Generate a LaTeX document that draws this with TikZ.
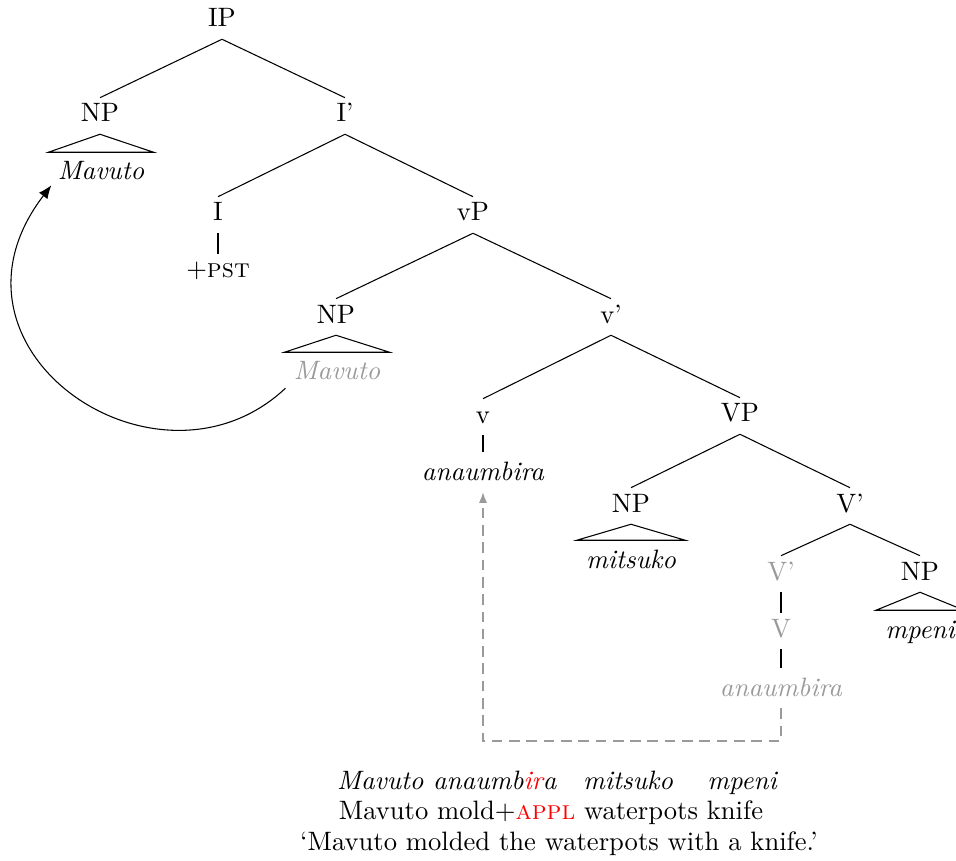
\documentclass[tikz,border=0pt]{standalone}
\usetikzlibrary{arrows.meta}
\definecolor{cgray}{HTML}{9A9A9A}
\tikzset{
  every picture/.style={x=0.3759pt, y=-0.3759pt},
  cat/.style={anchor=base, text height=1.3ex, text depth=.25ex},
  leaf/.style={cat, text height=1.6ex, font=\itshape},
  trace/.style={text=cgray},
  movearrow/.style={-{Latex[length=5pt, width=4pt]}},
  copyarrow/.style={draw=cgray, dash pattern=on 4pt off 2.5pt, -{Latex[length=4pt, width=3pt]}},
  gloss/.style={anchor=base, inner sep=0pt},
}

\begin{document}
\begin{tikzpicture}
  \useasboundingbox (0,0) rectangle (956,861);
  % roof over a phrase: #1 phrase node, #2 its words
  \newcommand{\roof}[2]{\draw (#1.south) -- (#2.north west) -- (#2.north east) -- cycle;}
  \node[cat] (ip) at (222,27) {IP};
  \node[cat] (np1) at (100,122) {NP};
  \node[leaf] (mav1) at (101,180) {Mavuto};
  \node[cat] (ibar) at (345,122) {I'};
  \node[cat] (infl) at (218,221) {I};
  \node[cat] (pst) at (218,278) {+\textsc{pst}};
  \node[cat] (lvp) at (473,221) {vP};
  \node[cat] (np2) at (336,323) {NP};
  \node[leaf, trace] (mav2) at (337,380) {Mavuto};
  \node[cat] (lvbar) at (611,323) {v'};
  \node[cat] (lv) at (483,423) {v};
  \node[leaf] (ana1) at (483,480) {anaumbira};
  \node[cat] (vp) at (740,422) {VP};
  \node[cat] (np3) at (631,512) {NP};
  \node[leaf] (mits) at (631,568) {mitsuko};
  \node[cat] (vbar) at (850,512) {V'};
  \node[cat, trace] (vbarlow) at (781,580) {V'};
  \node[cat] (np4) at (920,580) {NP};
  \node[leaf] (mpeni) at (920,638) {mpeni};
  \node[cat, trace] (verb) at (781,637) {V};
  \node[leaf, trace] (ana2) at (781,696) {anaumbira};
  \foreach \a/\b in {ip/np1, ip/ibar, ibar/infl, ibar/lvp, infl/pst, lvp/np2, lvp/lvbar,
      lvbar/lv, lvbar/vp, lv/ana1, vp/np3, vp/vbar, vbar/vbarlow, vbar/np4, vbarlow/verb, verb/ana2}
    \draw (\a.south) -- (\b.north);
  \roof{np1}{mav1}
  \roof{np2}{mav2}
  \roof{np3}{mits}
  \roof{np4}{mpeni}
  \draw[movearrow] ([shift={(1,-4)}]mav2.south west) .. controls (158,508) and (-75,350) .. ([shift={(3,-7)}]mav1.south west);
  \coordinate (low) at (0,741);
  \draw[copyarrow] (ana2.south) -- (ana2.south |- low) -| (ana1.south);
  \node[gloss] (ex) at (557,789) {\itshape Mavuto anaumb\textcolor{red}{ir}a\hspace{1em}mitsuko\hspace{1.3em}mpeni};
  \node[gloss] (gl) at (551,819) {Mavuto mold+\textcolor{red}{\textsc{appl}} waterpots knife};
  \node[gloss] (tr) at (559,850) {`Mavuto molded the waterpots with a knife.'};
\end{tikzpicture}
\end{document}
